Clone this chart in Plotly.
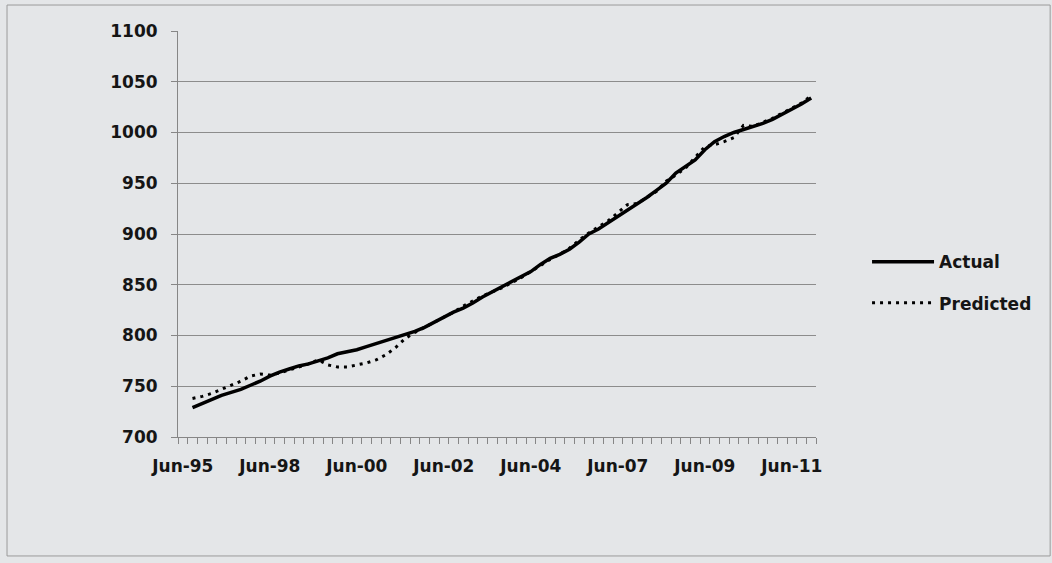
import plotly.graph_objects as go

# Category positions (quarterly periods, index 0 .. 65)
periods = list(range(66))

tick_positions = [0, 9, 18, 27, 36, 45, 54, 63]
tick_labels = ["Jun-95", "Jun-98", "Jun-00", "Jun-02", "Jun-04", "Jun-07", "Jun-09", "Jun-11"]

actual = [None,
          729, 733, 737, 741, 744, 747, 751, 755, 760, 764,
          767, 770, 772, 775, 778, 782, 784, 786, 789, 792,
          795, 798, 801, 804, 808, 813, 818, 823, 827, 832,
          838, 843, 848, 853, 858, 863, 870, 876, 880, 885,
          892, 900, 905, 911, 917, 924, 930, 936, 943, 950,
          960, 966, 973, 983, 991, 996, 1000, 1003, 1006, 1009,
          1013, 1018, 1023, 1028, 1034]

predicted = [None,
             738, 740, 743, 747, 751, 755, 760, 762, 761, 763,
             766, 769, 772, 776, 771, 769, 769, 771, 773, 776,
             781, 788, 797, 803, 808, 813, 818, 823, 829, 834,
             839, 843, 847, 852, 857, 863, 869, 875, 880, 886,
             894, 901, 907, 913, 921, 929, 930, 936, 942, 952,
             958, 965, 975, 986, 988, 991, 995, 1007, 1006, 1010,
             1014, 1019, 1024, 1029, 1036]

boundaries = [p - 0.5 for p in periods] + [periods[-1] + 0.5]

FONT = "DejaVu Sans"
tfont = dict(family=FONT, size=17, color="#151515", weight="bold")

fig = go.Figure()
fig.add_trace(go.Scatter(x=periods, y=actual, mode="lines", name="Actual",
                         legendgroup="a",
                         line=dict(color="#000000", width=3.5)))
fig.add_trace(go.Scatter(x=periods, y=predicted, mode="lines", name="Predicted",
                         legendgroup="p",
                         line=dict(color="#000000", width=3, dash="3px,5px")))

fig.update_layout(
    width=1052, height=563,
    margin=dict(l=178, r=236, t=31, b=126),
    paper_bgcolor="#e4e6e8",
    plot_bgcolor="rgba(0,0,0,0)",
    font=tfont,
    showlegend=True,
    legend=dict(x=1.08, y=0.38, xanchor="left", yanchor="middle",
                bgcolor="rgba(0,0,0,0)", tracegroupgap=16,
                traceorder="grouped", itemwidth=62,
                font=dict(family=FONT, size=17, color="#151515")),
    shapes=[dict(type="rect", xref="paper", yref="paper",
                 x0=-0.268, x1=1.367, y0=-0.293, y1=1.064,
                 line=dict(color="#9a9a9a", width=1), layer="below")],
)

fig.update_xaxes(
    range=[-0.5, 65.5],
    tickmode="array", tickvals=tick_positions, ticktext=tick_labels,
    ticks="", showgrid=False, zeroline=False,
    showline=True, linecolor="#868686", linewidth=1,
    tickfont=tfont, ticklabelstandoff=14,
    minor=dict(tickmode="array", tickvals=boundaries, ticks="outside",
               ticklen=6, tickcolor="#868686", tickwidth=1, showgrid=False),
)

fig.update_yaxes(
    range=[700, 1100], tickmode="linear", tick0=700, dtick=50,
    ticks="outside", ticklen=6, tickcolor="#868686",
    showgrid=True, gridcolor="#8c8c8c", gridwidth=1,
    zeroline=False, showline=True, linecolor="#868686", linewidth=1,
    tickfont=tfont, ticklabelstandoff=10,
)

fig.write_html("out.html")
